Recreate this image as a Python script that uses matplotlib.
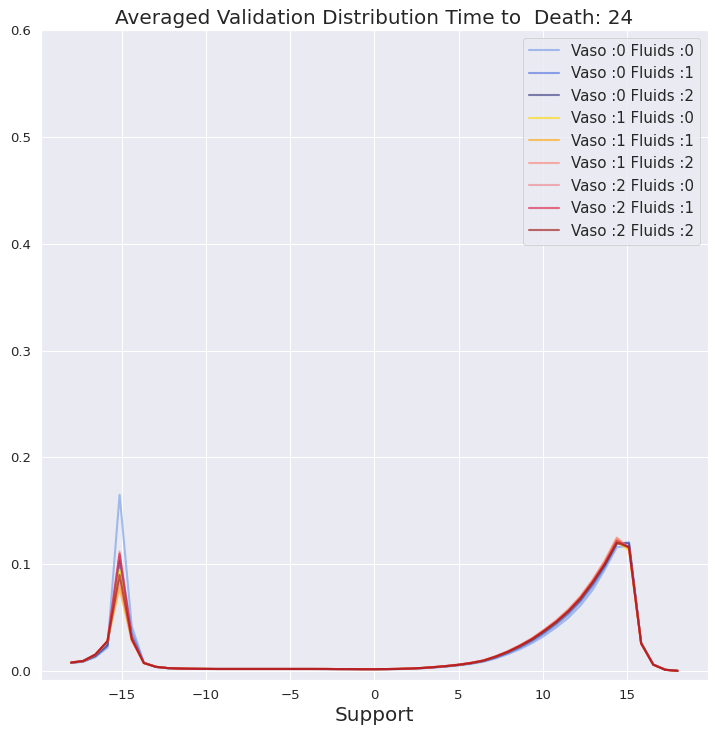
import matplotlib
matplotlib.use("Agg")
import matplotlib.pyplot as plt
import seaborn as sns
import numpy as np

sns.set_theme(style="darkgrid")
plt.rcParams['font.family'] = ['DejaVu Sans']

support = np.linspace(-18, 18, 51)

labels = ["Vaso :0 Fluids :0", "Vaso :0 Fluids :1", "Vaso :0 Fluids :2",
          "Vaso :1 Fluids :0", "Vaso :1 Fluids :1", "Vaso :1 Fluids :2",
          "Vaso :2 Fluids :0", "Vaso :2 Fluids :1", "Vaso :2 Fluids :2"]
colors = ["#6f97e8", "#4a6be0", "#2f2f7a",
          "#ffd700", "#ffa500", "#fa7f70",
          "#f08088", "#dc143c", "#9b0a0a"]

v0f0 = [0.0075, 0.0088, 0.0130, 0.0220, 0.1650, 0.0420, 0.0080, 0.0038, 0.0027, 0.0023,
        0.0021, 0.0020, 0.0020, 0.0020, 0.0020, 0.0020, 0.0020, 0.0020, 0.0020, 0.0020,
        0.0020, 0.0019, 0.0019, 0.0018, 0.0018, 0.0017, 0.0018, 0.0019, 0.0022, 0.0027,
        0.0034, 0.0043, 0.0054, 0.0068, 0.0088, 0.0118, 0.0158, 0.0205, 0.0262, 0.0330,
        0.0410, 0.0500, 0.0615, 0.0760, 0.0950, 0.1160, 0.1170, 0.0265, 0.0062, 0.0013,
        0.0003]
v0f1 = [0.0077, 0.0090, 0.0138, 0.0235, 0.1080, 0.0360, 0.0078, 0.0039, 0.0027, 0.0023,
        0.0021, 0.0020, 0.0020, 0.0020, 0.0020, 0.0020, 0.0020, 0.0020, 0.0020, 0.0020,
        0.0020, 0.0019, 0.0019, 0.0018, 0.0018, 0.0018, 0.0018, 0.0020, 0.0023, 0.0028,
        0.0036, 0.0045, 0.0057, 0.0072, 0.0093, 0.0126, 0.0169, 0.0220, 0.0280, 0.0352,
        0.0435, 0.0530, 0.0648, 0.0795, 0.0975, 0.1190, 0.1205, 0.0265, 0.0062, 0.0013,
        0.0003]
v0f2 = [0.0078, 0.0092, 0.0142, 0.0245, 0.1030, 0.0320, 0.0077, 0.0040, 0.0028, 0.0024,
        0.0022, 0.0021, 0.0020, 0.0020, 0.0020, 0.0020, 0.0020, 0.0020, 0.0020, 0.0020,
        0.0020, 0.0020, 0.0019, 0.0019, 0.0018, 0.0018, 0.0019, 0.0020, 0.0023, 0.0029,
        0.0037, 0.0046, 0.0058, 0.0074, 0.0095, 0.0130, 0.0174, 0.0228, 0.0290, 0.0365,
        0.0450, 0.0548, 0.0665, 0.0815, 0.0990, 0.1200, 0.1195, 0.0262, 0.0061, 0.0012,
        0.0003]
v1f0 = [0.0080, 0.0095, 0.0152, 0.0275, 0.0950, 0.0300, 0.0076, 0.0040, 0.0028, 0.0024,
        0.0022, 0.0021, 0.0020, 0.0020, 0.0020, 0.0020, 0.0020, 0.0020, 0.0020, 0.0020,
        0.0020, 0.0020, 0.0019, 0.0019, 0.0018, 0.0018, 0.0019, 0.0021, 0.0024, 0.0030,
        0.0038, 0.0048, 0.0060, 0.0076, 0.0098, 0.0135, 0.0180, 0.0236, 0.0300, 0.0378,
        0.0463, 0.0563, 0.0685, 0.0835, 0.1010, 0.1210, 0.1130, 0.0258, 0.0060, 0.0012,
        0.0003]
v1f1 = [0.0080, 0.0095, 0.0155, 0.0280, 0.0780, 0.0285, 0.0076, 0.0040, 0.0028, 0.0024,
        0.0022, 0.0021, 0.0020, 0.0020, 0.0020, 0.0020, 0.0020, 0.0020, 0.0020, 0.0020,
        0.0020, 0.0020, 0.0019, 0.0019, 0.0018, 0.0018, 0.0019, 0.0021, 0.0024, 0.0030,
        0.0039, 0.0049, 0.0061, 0.0078, 0.0100, 0.0138, 0.0184, 0.0240, 0.0305, 0.0384,
        0.0470, 0.0572, 0.0695, 0.0848, 0.1025, 0.1240, 0.1140, 0.0258, 0.0060, 0.0012,
        0.0003]
v1f2 = [0.0080, 0.0096, 0.0156, 0.0280, 0.0850, 0.0290, 0.0076, 0.0040, 0.0028, 0.0024,
        0.0022, 0.0021, 0.0020, 0.0020, 0.0020, 0.0020, 0.0020, 0.0020, 0.0020, 0.0020,
        0.0020, 0.0020, 0.0019, 0.0019, 0.0018, 0.0018, 0.0019, 0.0021, 0.0024, 0.0030,
        0.0039, 0.0049, 0.0062, 0.0079, 0.0101, 0.0140, 0.0186, 0.0243, 0.0308, 0.0388,
        0.0475, 0.0578, 0.0702, 0.0855, 0.1035, 0.1250, 0.1150, 0.0258, 0.0060, 0.0012,
        0.0003]
v2f0 = [0.0080, 0.0095, 0.0154, 0.0278, 0.1120, 0.0310, 0.0076, 0.0040, 0.0028, 0.0024,
        0.0022, 0.0021, 0.0020, 0.0020, 0.0020, 0.0020, 0.0020, 0.0020, 0.0020, 0.0020,
        0.0020, 0.0020, 0.0019, 0.0019, 0.0018, 0.0018, 0.0019, 0.0021, 0.0024, 0.0030,
        0.0039, 0.0049, 0.0061, 0.0078, 0.0100, 0.0138, 0.0183, 0.0239, 0.0303, 0.0381,
        0.0467, 0.0568, 0.0690, 0.0842, 0.1018, 0.1230, 0.1160, 0.0260, 0.0060, 0.0012,
        0.0003]
v2f1 = [0.0080, 0.0095, 0.0155, 0.0280, 0.1100, 0.0305, 0.0076, 0.0040, 0.0028, 0.0024,
        0.0022, 0.0021, 0.0020, 0.0020, 0.0020, 0.0020, 0.0020, 0.0020, 0.0020, 0.0020,
        0.0020, 0.0020, 0.0019, 0.0019, 0.0018, 0.0018, 0.0019, 0.0021, 0.0024, 0.0030,
        0.0038, 0.0048, 0.0060, 0.0077, 0.0099, 0.0136, 0.0181, 0.0237, 0.0300, 0.0378,
        0.0463, 0.0563, 0.0684, 0.0835, 0.1008, 0.1220, 0.1160, 0.0260, 0.0060, 0.0012,
        0.0003]
v2f2 = [0.0080, 0.0095, 0.0155, 0.0280, 0.0900, 0.0300, 0.0075, 0.0040, 0.0028, 0.0024,
        0.0022, 0.0021, 0.0020, 0.0020, 0.0020, 0.0020, 0.0020, 0.0020, 0.0020, 0.0020,
        0.0020, 0.0020, 0.0019, 0.0019, 0.0018, 0.0018, 0.0019, 0.0021, 0.0024, 0.0030,
        0.0038, 0.0048, 0.0060, 0.0076, 0.0098, 0.0135, 0.0180, 0.0235, 0.0298, 0.0375,
        0.0460, 0.0560, 0.0680, 0.0830, 0.1000, 0.1200, 0.1160, 0.0260, 0.0060, 0.0012,
        0.0003]

series = [v0f0, v0f1, v0f2, v1f0, v1f1, v1f2, v2f0, v2f1, v2f2]

fig = plt.figure(figsize=(715 / 72, 734 / 72), dpi=72)
ax = fig.add_axes([0.057, 0.0736, 0.933, 0.8855])

for vals, lab, col in zip(series, labels, colors):
    ax.plot(support, vals, color=col, alpha=0.6, linewidth=2.1, label=lab)

ax.set_ylim(-0.0083, 0.6)
ax.set_xlim(-19.8, 19.8)
ax.set_xticks([-15, -10, -5, 0, 5, 10, 15])
ax.set_yticks([0.0, 0.1, 0.2, 0.3, 0.4, 0.5, 0.6])
ax.tick_params(labelsize=13.2)
ax.set_title("Averaged Validation Distribution Time to  Death: 24", fontsize=20)
ax.set_xlabel("Support", fontsize=20)
ax.legend(loc="upper right", fontsize=15, handlelength=2.0)

fig.savefig("out.png", dpi=72)
